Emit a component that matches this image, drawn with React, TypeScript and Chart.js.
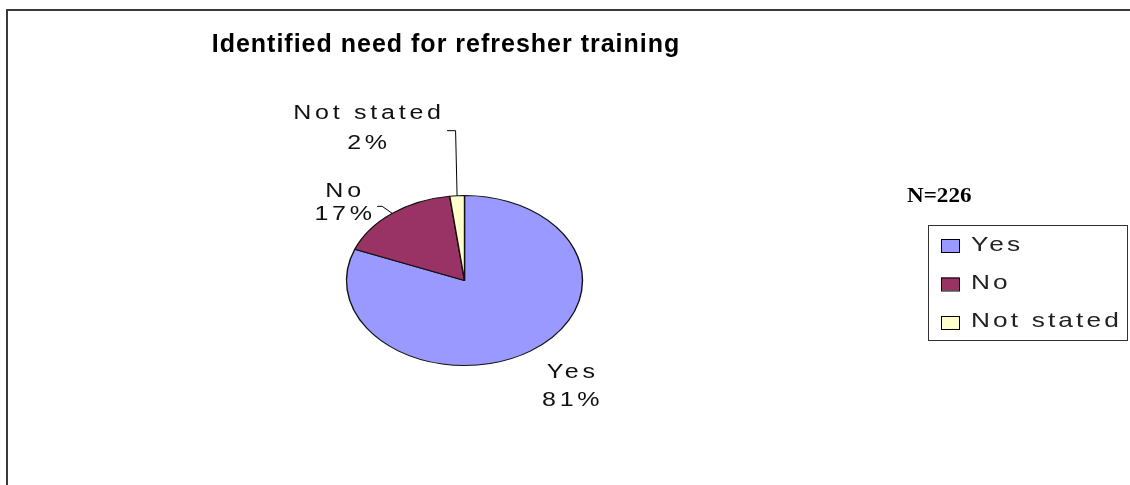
import React, { useEffect, useRef } from 'react';
import { Chart, registerables } from 'chart.js';

Chart.register(...registerables);

// ---- data ----
const categories = ['Yes', 'No', 'Not stated'];
const percentages = [81, 17, 2];
const sliceColors = ['#9999FF', '#993366', '#FFFFCC'];
const chartTitle = 'Identified need for refresher training';
const sampleNote = 'N=226';

// ---- layout / style ----
const W = 1130;
const H = 485;
const CX = 464;
const CY = 280;
const RY = 85;
const RX = 118;
const SX = RX / RY;

const SANS = "'Liberation Sans', Arial, sans-serif";
const SERIF = "'Liberation Serif', 'Times New Roman', serif";

// label offsets relative to the slice's outer mid-point
const labelStyle = [
  { dx: 40, dy: [27, 55], leader: null as null | number[][] },
  { dx: -49, dy: [-16, 7], leader: [[-15, -7], [-10, -7], [0, 0]] },
  { dx: -90, dy: [-77, -47], leader: [[-10, -65], [-1.5, -65], [0, 0]] },
];

function stretchText(
  ctx: CanvasRenderingContext2D,
  text: string,
  x: number,
  y: number,
  font: string,
  sx: number,
  spacing: number,
  align: 'center' | 'left' = 'center',
  color = '#000'
) {
  ctx.save();
  ctx.font = font;
  (ctx as any).letterSpacing = `${spacing}px`;
  ctx.textBaseline = 'alphabetic';
  ctx.textAlign = 'left';
  const supported = (ctx as any).letterSpacing !== undefined;
  const raw = ctx.measureText(text).width;
  const w = (raw - (supported ? spacing : 0)) * sx;
  const left = align === 'center' ? x - w / 2 : x;
  ctx.translate(left, y);
  ctx.scale(sx, 1);
  ctx.fillStyle = color;
  ctx.fillText(text, 0, 0);
  ctx.restore();
}

const ellipsePlugin = {
  id: 'ellipsePie',
  beforeDatasetsDraw(chart: any) {
    const ctx = chart.ctx;
    const arc = chart.getDatasetMeta(0).data[0];
    const cx = arc ? arc.x : CX;
    const cy = arc ? arc.y : CY;
    ctx.save();
    ctx.translate(cx, cy);
    ctx.scale(SX, 1);
    ctx.translate(-cx, -cy);
  },
  afterDatasetsDraw(chart: any) {
    chart.ctx.restore();
  },
};

const decorPlugin = {
  id: 'decor',
  afterDraw(chart: any) {
    const ctx: CanvasRenderingContext2D = chart.ctx;

    // frame (left & top edges visible)
    ctx.save();
    ctx.strokeStyle = '#3a3a3a';
    ctx.lineWidth = 2;
    ctx.beginPath();
    ctx.moveTo(7, H);
    ctx.lineTo(7, 10);
    ctx.lineTo(W, 10);
    ctx.stroke();
    ctx.restore();

    // title
    stretchText(ctx, chartTitle, 445.5, 52, `bold 25px ${SANS}`, 1.0, 1);

    // data labels + leader lines
    const meta = chart.getDatasetMeta(0);
    meta.data.forEach((arc: any, i: number) => {
      const p = arc.getProps(['x', 'y', 'startAngle', 'endAngle', 'outerRadius'], true);
      const mid = (p.startAngle + p.endAngle) / 2;
      const ex = p.x + Math.cos(mid) * p.outerRadius * SX;
      const ey = p.y + Math.sin(mid) * p.outerRadius;
      const st = labelStyle[i];
      if (st.leader) {
        ctx.save();
        ctx.strokeStyle = '#000';
        ctx.lineWidth = 1;
        ctx.beginPath();
        st.leader.forEach((pt, k) => {
          const px = ex + pt[0];
          const py = ey + pt[1];
          if (k === 0) ctx.moveTo(px, py);
          else ctx.lineTo(px, py);
        });
        ctx.stroke();
        ctx.restore();
      }
      const value = chart.data.datasets[0].data[i];
      stretchText(ctx, String(chart.data.labels[i]), ex + st.dx, ey + st.dy[0], `20px ${SANS}`, 1.25, 3, 'center', '#111');
      stretchText(ctx, `${value}%`, ex + st.dx, ey + st.dy[1], `20px ${SANS}`, 1.25, 3, 'center', '#111');
    });

    // sample size note
    stretchText(ctx, sampleNote, 907, 202, `bold 22px ${SERIF}`, 1.05, 0, 'left');

    // legend box
    const bx = 928, by = 225, bw = 199, bh = 115;
    ctx.save();
    ctx.strokeStyle = '#333';
    ctx.lineWidth = 1;
    ctx.strokeRect(bx + 0.5, by + 0.5, bw, bh);
    ctx.restore();
    chart.data.labels.forEach((lab: string, i: number) => {
      const sqTop = 239 + i * 38.5;
      ctx.save();
      ctx.fillStyle = sliceColors[i];
      ctx.fillRect(941, sqTop, 18, 13);
      ctx.strokeStyle = '#000';
      ctx.lineWidth = 1;
      ctx.strokeRect(941.5, sqTop + 0.5, 18, 13);
      ctx.restore();
      stretchText(ctx, lab, 971, 251 + i * 38, `21px ${SANS}`, 1.25, 2.5, 'left', '#222');
    });
  },
};

export default function App() {
  const canvasRef = useRef<HTMLCanvasElement | null>(null);

  useEffect(() => {
    if (!canvasRef.current) return;
    const chart = new Chart(canvasRef.current, {
      type: 'pie',
      data: {
        labels: categories,
        datasets: [
          {
            data: percentages,
            backgroundColor: sliceColors,
            borderColor: '#111',
            borderWidth: 1,
            clip: false,
          } as any,
        ],
      },
      options: {
        responsive: false,
        animation: false,
        events: [],
        layout: {
          padding: {
            left: CX - RY,
            right: W - (CX + RY) - 1,
            top: CY - RY,
            bottom: H - (CY + RY) - 1,
          },
        },
        plugins: {
          legend: { display: false },
          title: { display: false },
          tooltip: { enabled: false },
        },
      },
      plugins: [ellipsePlugin, decorPlugin],
    });
    return () => chart.destroy();
  }, []);

  return (
    <div style={{ position: 'fixed', left: 0, top: 0, width: W, height: H, background: '#fff' }}>
      <canvas ref={canvasRef} width={W} height={H} style={{ display: 'block' }} />
    </div>
  );
}
